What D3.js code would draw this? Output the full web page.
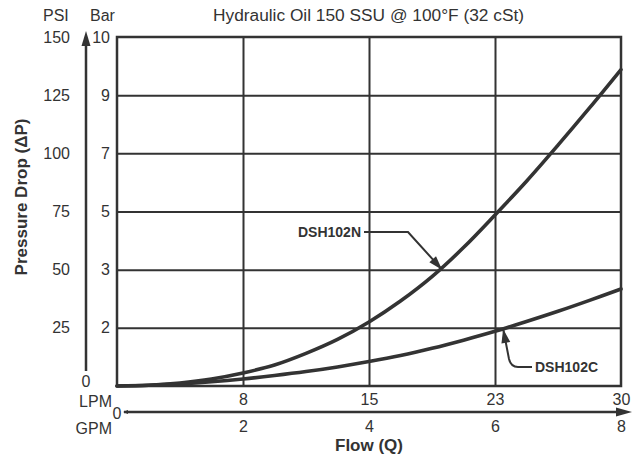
<!DOCTYPE html>
<html><head><meta charset="utf-8">
<script src="https://cdn.jsdelivr.net/npm/d3@7"></script>
<style>
html,body{margin:0;padding:0;background:#fff;}
svg{display:block;font-family:"Liberation Sans",Arial,sans-serif;}
</style></head>
<body>
<svg id="c" width="639" height="456"></svg>
<script>
// ---- data ----
const gpm = [0, 0.5, 1, 1.5, 2, 2.5, 3, 3.5, 4, 4.5, 5, 5.5, 6, 6.5, 7, 7.5, 8];
const dsh102N = [0, 0.3, 1.3, 3, 5.6, 9, 14, 20, 27.5, 36.5, 47, 59.5, 73.5, 88, 103.5, 119.5, 136];
const dsh102C = [0, 0.3, 0.9, 1.8, 3, 4.5, 6.2, 8.2, 10.5, 13.1, 16.2, 19.7, 23.5, 27.7, 32.1, 36.8, 41.7];
const gpmTicks = [2, 4, 6, 8];
const lpmLabels = ["8", "15", "23", "30"];
const psiTicks = [0, 25, 50, 75, 100, 125, 150];
const barLabels = ["", "2", "3", "5", "7", "9", "10"];
const title = "Hydraulic Oil 150 SSU @ 100°F (32 cSt)";

const ink = "#333";
const svg = d3.select("#c");
const L = 117, R = 621, T = 37, B = 386;
const x = d3.scaleLinear().domain([0, 8]).range([L, R]);
const y = d3.scaleLinear().domain([0, 150]).range([B, T]);

// grid
const gv = svg.append("g").attr("transform", `translate(0,${B})`)
  .call(d3.axisBottom(x).tickValues([2, 4, 6]).tickSize(-(B - T)).tickFormat(""));
gv.select(".domain").remove();
gv.selectAll("line").attr("stroke", ink).attr("stroke-width", 2);
const gh = svg.append("g").attr("transform", `translate(${L},0)`)
  .call(d3.axisLeft(y).tickValues([25, 50, 75, 100, 125]).tickSize(-(R - L)).tickFormat(""));
gh.select(".domain").remove();
gh.selectAll("line").attr("stroke", ink).attr("stroke-width", 2);

// frame
svg.append("rect").attr("x", L).attr("y", T).attr("width", R - L).attr("height", B - T)
  .attr("fill", "none").attr("stroke", ink).attr("stroke-width", 2.5);

// curves
const line = d3.line().x((d, i) => x(gpm[i])).y(d => y(d)).curve(d3.curveCatmullRom);
[dsh102N, dsh102C].forEach(s => {
  svg.append("path").attr("d", line(s)).attr("fill", "none")
    .attr("stroke", ink).attr("stroke-width", 3.6).attr("stroke-linecap", "round");
});

function styleText(sel, size, weight) {
  sel.selectAll("text").attr("fill", ink).attr("font-size", size).attr("font-weight", weight || "normal")
     .attr("font-family", "Liberation Sans, Arial, sans-serif");
}

// PSI labels
const psiAx = svg.append("g").attr("transform", "translate(70,0)")
  .call(d3.axisLeft(y).tickValues(psiTicks.slice(1)).tickSize(0).tickPadding(0));
psiAx.select(".domain").remove();
styleText(psiAx, 16);
// Bar labels
const barAx = svg.append("g").attr("transform", "translate(110,0)")
  .call(d3.axisLeft(y).tickValues(psiTicks.slice(1)).tickSize(0).tickPadding(0)
    .tickFormat((d, i) => barLabels[i + 1]));
barAx.select(".domain").remove();
styleText(barAx, 16);

svg.append("text").attr("x", 86).attr("y", 381).attr("dy", "0.35em").attr("text-anchor", "middle")
  .attr("font-size", 16).attr("fill", ink).text("0");

// headers
svg.append("text").attr("x", 43).attr("y", 15).attr("dy", "0.35em").attr("font-size", 16).attr("fill", ink).text("PSI");
svg.append("text").attr("x", 90).attr("y", 15).attr("dy", "0.35em").attr("font-size", 16).attr("fill", ink).text("Bar");
svg.append("text").attr("x", 213).attr("y", 15).attr("dy", "0.35em").attr("font-size", 16).attr("fill", ink)
  .attr("textLength", 311).attr("lengthAdjust", "spacingAndGlyphs").text(title);

// y arrow
svg.append("line").attr("x1", 86).attr("x2", 86).attr("y1", 371).attr("y2", 44)
  .attr("stroke", ink).attr("stroke-width", 2.5);
svg.append("path").attr("d", "M86,31 L81.5,46 L90.5,46 Z").attr("fill", ink);
svg.append("text").attr("transform", "translate(21,197) rotate(-90)").attr("text-anchor", "middle")
  .attr("dy", "0.35em").attr("font-size", 17).attr("font-weight", "bold").attr("fill", ink)
  .text("Pressure Drop (ΔP)");

// LPM labels
const lpmAx = svg.append("g").attr("transform", "translate(0,399)")
  .call(d3.axisBottom(x).tickValues(gpmTicks).tickSize(0).tickPadding(0)
    .tickFormat((d, i) => lpmLabels[i]));
lpmAx.select(".domain").remove();
styleText(lpmAx, 16);
lpmAx.selectAll("text").attr("dy", "0.35em");
svg.append("text").attr("x", 112).attr("y", 401).attr("dy", "0.35em").attr("text-anchor", "end")
  .attr("font-size", 16).attr("fill", ink).text("LPM");

// x arrow
svg.append("text").attr("x", 117).attr("y", 413).attr("dy", "0.35em").attr("text-anchor", "middle")
  .attr("font-size", 16).attr("fill", ink).text("0");
svg.append("line").attr("x1", 124).attr("x2", 618).attr("y1", 412).attr("y2", 412)
  .attr("stroke", ink).attr("stroke-width", 2.5);
svg.append("path").attr("d", "M632,412 L616,407.5 L616,416.5 Z").attr("fill", ink);
svg.append("path").attr("d", "M123,412 L128,410 L128,414 Z").attr("fill", ink);

// GPM labels
const gpmAx = svg.append("g").attr("transform", "translate(0,426)")
  .call(d3.axisBottom(x).tickValues(gpmTicks).tickSize(0).tickPadding(0));
gpmAx.select(".domain").remove();
styleText(gpmAx, 16);
gpmAx.selectAll("text").attr("dy", "0.35em");
svg.append("text").attr("x", 112).attr("y", 428).attr("dy", "0.35em").attr("text-anchor", "end")
  .attr("font-size", 16).attr("fill", ink).text("GPM");
svg.append("text").attr("x", x(4)).attr("y", 445).attr("dy", "0.35em").attr("text-anchor", "middle")
  .attr("font-size", 17).attr("font-weight", "bold").attr("fill", ink).text("Flow (Q)");

// annotations
function arrowHead(tip, from, len, half) {
  const dx = tip[0] - from[0], dy = tip[1] - from[1], m = Math.hypot(dx, dy);
  const ux = dx / m, uy = dy / m;
  const bx = tip[0] - ux * len, by = tip[1] - uy * len;
  return `M${tip[0]},${tip[1]} L${bx - uy * half},${by + ux * half} L${bx + uy * half},${by - ux * half} Z`;
}
// DSH102N
const tipN = [x(5.16), y(50)];
const elbowN = [408, 232];
svg.append("path").attr("d", `M364,232 L${elbowN[0]},${elbowN[1]} L${tipN[0]},${tipN[1]}`)
  .attr("fill", "none").attr("stroke", ink).attr("stroke-width", 2);
svg.append("path").attr("d", arrowHead(tipN, elbowN, 14, 4.5)).attr("fill", ink);
svg.append("text").attr("x", 361).attr("y", 232).attr("dy", "0.35em").attr("text-anchor", "end")
  .attr("font-size", 14).attr("font-weight", "bold").attr("fill", ink).text("DSH102N");
// DSH102C
const tipC = [x(6.13), y(24.5)];
const lowC = [509, 359];
svg.append("path").attr("d", `M${tipC[0]},${tipC[1]} L${lowC[0]},${lowC[1]} Q511,367 518,367 L532,367`)
  .attr("fill", "none").attr("stroke", ink).attr("stroke-width", 2);
svg.append("path").attr("d", arrowHead(tipC, lowC, 14, 4.5)).attr("fill", ink);
svg.append("text").attr("x", 535).attr("y", 367).attr("dy", "0.35em").attr("text-anchor", "start")
  .attr("font-size", 14).attr("font-weight", "bold").attr("fill", ink).text("DSH102C");
</script>
</body></html>
